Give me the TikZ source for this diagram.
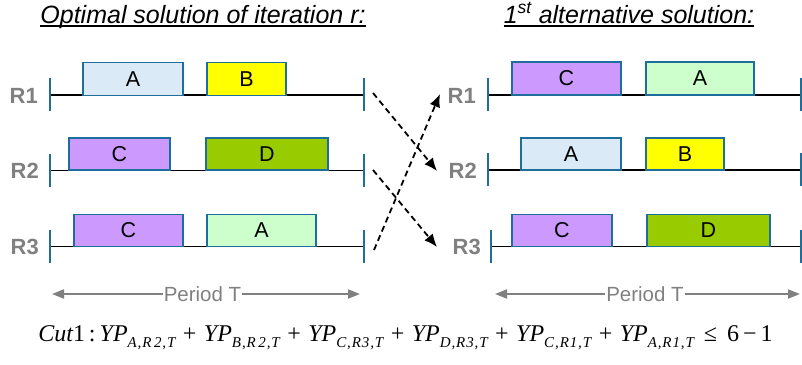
\documentclass[tikz,border=0pt]{standalone}
\usepackage{fontspec}
\setmainfont{Liberation Sans}
\newfontfamily\tms{Liberation Serif}
\usetikzlibrary{arrows.meta}
\definecolor{edge}{RGB}{30,110,155}
\definecolor{lblue}{RGB}{218,234,246}
\definecolor{yel}{RGB}{255,255,0}
\definecolor{purp}{RGB}{204,153,255}
\definecolor{grn}{RGB}{153,204,0}
\definecolor{lgrn}{RGB}{204,255,204}
\definecolor{gr}{RGB}{128,128,128}
\newcommand\ypsub[1]{{\itshape YP}\raisebox{-0.55ex}{\fontsize{15}{15}\selectfont\itshape\addfontfeature{LetterSpace=6} #1}}
\newcommand\plussign{\hspace{1.5pt}+\hspace{1.5pt}}
\begin{document}
\begin{tikzpicture}[x=1pt,y=-1pt,
  job/.style={draw=edge,line width=1.3pt,inner sep=0,minimum height=33pt,font=\fontsize{21.5}{21.5}\selectfont},
  tl/.style={line width=1.5pt,black},
  tickmark/.style={draw=edge,line width=1.3pt},
  rlab/.style={anchor=base east,inner sep=0,text=gr,font=\fontsize{22}{22}\selectfont\bfseries},
  swap/.style={dash pattern=on 6pt off 4pt,line width=1.8pt,-{Latex[length=13pt,width=11pt]}},
  per/.style={draw=gr,line width=2pt,-{Triangle[length=12pt,width=9pt]}},
  perlab/.style={text=gr,inner sep=1pt,font=\fontsize{20.5}{20.5}\selectfont},
  ttl/.style={anchor=base,inner sep=0,font=\fontsize{25}{25}\selectfont\itshape}]
\useasboundingbox (0,0) rectangle (802,364);
% titles
\node[ttl] (t1) at (203,23) {Optimal solution of iteration r:};
\draw[line width=1.2pt] ([yshift=-3pt]t1.base west) -- ([yshift=-3pt]t1.base east);
\node[ttl] (t2) at (629,23) {1\textsuperscript{st} alternative solution:};
\draw[line width=1.2pt] ([yshift=-3pt]t2.base west) -- ([yshift=-3pt]t2.base east);
% left timelines
\foreach \y in {95,170.5,246.5}{
  \draw[tl] (50,\y) -- (364,\y);
  \draw[tickmark] (50,\y-17) -- (50,\y+16);
  \draw[tickmark] (364,\y-17) -- (364,\y+16);
}
% right timelines
\draw[tl] (488,95) -- (802,95);
\draw[tl] (488,170) -- (802,170);
\draw[tl] (491,246.5) -- (802,246.5);
\draw[tickmark] (488,78) -- (488,111);
\draw[tickmark] (488,153) -- (488,186);
\draw[tickmark] (491,230) -- (491,263);
\draw[tickmark] (801,78) -- (801,111);
\draw[tickmark] (801,153) -- (801,186);
\draw[tickmark] (801,230) -- (801,263);
% labels
\node[rlab] (l1) at (38,103) {R1};
\node[rlab] (l2) at (39,178.5) {R2};
\node[rlab] (l3) at (39,254.5) {R3};
\node[rlab] (r1) at (476,103) {R1};
\node[rlab] (r2) at (477,178) {R2};
\node[rlab] (r3) at (481,254.5) {R3};
% left jobs
\node[job,fill=lblue,minimum width=100pt] (la1) at (133,79) {A};
\node[job,fill=yel,minimum width=79pt] (lb1) at (246.5,79) {B};
\node[job,fill=purp,minimum width=101pt,minimum height=32pt] (lc2) at (119.5,154) {C};
\node[job,fill=grn,minimum width=122pt,minimum height=32pt] (ld2) at (267,154) {D};
\node[job,fill=purp,minimum width=109pt,minimum height=32pt] (lc3) at (128.5,230.5) {C};
\node[job,fill=lgrn,minimum width=109pt,minimum height=32pt] (la3) at (261.5,230.5) {A};
% right jobs
\node[job,fill=purp,minimum width=109pt] (rc1) at (566.5,78.5) {C};
\node[job,fill=lgrn,minimum width=108pt] (ra1) at (700,78.5) {A};
\node[job,fill=lblue,minimum width=100pt,minimum height=32pt] (ra2) at (571,154) {A};
\node[job,fill=yel,minimum width=78pt,minimum height=32pt] (rb2) at (685,154) {B};
\node[job,fill=purp,minimum width=100pt,minimum height=32pt] (rc3) at (562,230.5) {C};
\node[job,fill=grn,minimum width=123pt,minimum height=32pt] (rd3) at (708.5,230.5) {D};
% swap arrows
\coordinate (s1) at (373,93);
\coordinate (e1) at (437,171);
\coordinate (s2) at (373,170);
\coordinate (e2) at (437,247);
\coordinate (s3) at (374,250);
\coordinate (e3) at (440,94);
\draw[swap] (s1) -- (e1);
\draw[swap] (s2) -- (e2);
\draw[swap] (s3) -- (e3);
% period arrows
\node[perlab] (p1) at (202.5,294) {Period T};
\coordinate (p1l) at (52,294);
\coordinate (p1r) at (360,294);
\draw[per] (p1.west) -- (p1l);
\draw[per] (p1.east) -- (p1r);
\node[perlab] (p2) at (645,294) {Period T};
\coordinate (p2l) at (495,294);
\coordinate (p2r) at (800,294);
\draw[per] (p2.west) -- (p2l);
\draw[per] (p2.east) -- (p2r);
% equation
\node[anchor=base,inner sep=0,font=\fontsize{24}{24}\selectfont\tms] (eq) at (405.5,341)
 {{\itshape Cut}1\,:\,\ypsub{A,R\,2,T} \plussign{} \ypsub{B,R\,2,T} \plussign{} \ypsub{C,R3,T} \plussign{} \ypsub{D,R3,T} \plussign{} \ypsub{C,R1,T} \plussign{} \ypsub{A,R1,T} \,≤\, 6\,−\,1};
\end{tikzpicture}
\end{document}
